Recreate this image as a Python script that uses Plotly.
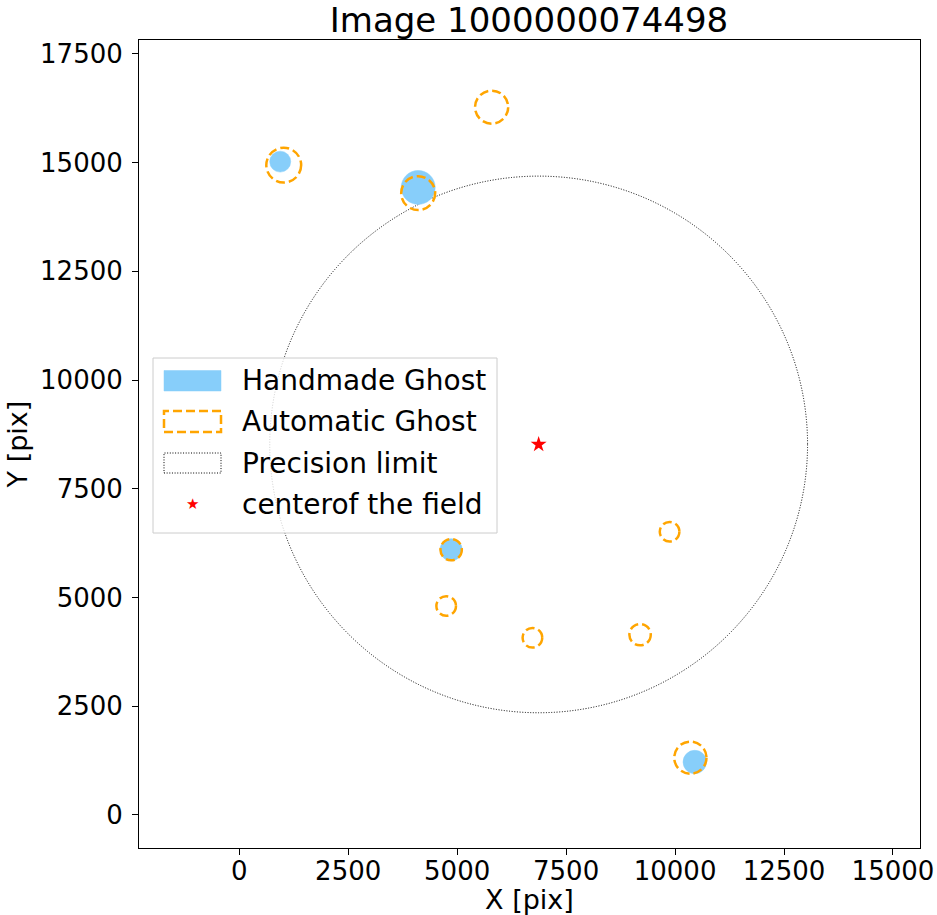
import plotly.graph_objects as go

# ---------------- data ----------------
hand_x = [940, 4106, 4862, 10452]
hand_y = [15023, 14430, 6099, 1218]
hand_r = [241, 390, 255, 269]

auto_x = [1021, 5791, 4106, 4862, 9874, 4748, 6727, 9197, 10351]
auto_y = [14943, 16276, 14299, 6099, 6513, 4805, 4074, 4145, 1317]
auto_r = [400, 380, 390, 245, 225, 225, 225, 245, 370]

center_x = [6870]
center_y = [8520]
precision_r = 6170

x_ticks = [0, 2500, 5000, 7500, 10000, 12500, 15000]
y_ticks = [0, 2500, 5000, 7500, 10000, 12500, 15000, 17500]

legend_labels = ["Handmade Ghost", "Automatic Ghost", "Precision limit", "centerof the field"]

# ---------------- layout geometry ----------------
W, H = 937, 915
L, R, T, B = 139, 17, 40, 67
PW, PH = W - L - R, H - T - B

def px(x):
    return (x - L) / PW

def py(y):
    return (H - B - y) / PH

FONT = "DejaVu Sans"
BLUE = "#87CEFA"
ORANGE = "#FFA500"

fig = go.Figure()

shapes = []
# precision limit circle
shapes.append(dict(type="circle", xref="x", yref="y",
                   x0=center_x[0] - precision_r, x1=center_x[0] + precision_r,
                   y0=center_y[0] - precision_r, y1=center_y[0] + precision_r,
                   line=dict(color="black", width=1, dash="1px,1.65px"),
                   fillcolor="rgba(0,0,0,0)", layer="below"))
# handmade ghosts
for x, y, r in zip(hand_x, hand_y, hand_r):
    shapes.append(dict(type="circle", xref="x", yref="y",
                       x0=x - r, x1=x + r, y0=y - r, y1=y + r,
                       fillcolor=BLUE, line=dict(color=BLUE, width=0.5)))
# automatic ghosts
for x, y, r in zip(auto_x, auto_y, auto_r):
    shapes.append(dict(type="circle", xref="x", yref="y",
                       x0=x - r, x1=x + r, y0=y - r, y1=y + r,
                       fillcolor="rgba(0,0,0,0)",
                       line=dict(color=ORANGE, width=2.5, dash="9px,4px")))

# center of the field
fig.add_trace(go.Scatter(x=center_x, y=center_y, mode="markers",
                         marker=dict(symbol="star", size=12, color="red",
                                     line=dict(width=0)),
                         showlegend=False, hoverinfo="skip"))

# ---------------- custom legend (matplotlib style) ----------------
shapes.append(dict(type="rect", xref="paper", yref="paper",
                   x0=px(153), x1=px(497), y0=py(533), y1=py(358),
                   fillcolor="rgba(255,255,255,0.8)",
                   line=dict(color="#cccccc", width=1)))
shapes.append(dict(type="rect", xref="paper", yref="paper",
                   x0=px(164), x1=px(221), y0=py(391), y1=py(370.5),
                   fillcolor=BLUE, line=dict(color=BLUE, width=0.5)))
shapes.append(dict(type="rect", xref="paper", yref="paper",
                   x0=px(164), x1=px(221), y0=py(432), y1=py(411),
                   fillcolor="rgba(0,0,0,0)",
                   line=dict(color=ORANGE, width=2.5, dash="9px,4px")))
shapes.append(dict(type="rect", xref="paper", yref="paper",
                   x0=px(164), x1=px(221), y0=py(473), y1=py(453),
                   fillcolor="rgba(0,0,0,0)",
                   line=dict(color="black", width=1, dash="1px,1.65px")))

annotations = []
row_y = [380.7, 421.4, 463, 504]
for lab, yy in zip(legend_labels, row_y):
    annotations.append(dict(text=lab, xref="paper", yref="paper",
                            x=px(240), y=py(yy), xanchor="left", yanchor="middle",
                            showarrow=False, font=dict(family=FONT, size=28, color="black")))
annotations.append(dict(text="★", xref="paper", yref="paper",
                        x=px(192.7), y=py(504), xanchor="center", yanchor="middle",
                        showarrow=False, font=dict(family=FONT, size=15, color="red")))

axis_common = dict(showgrid=False, zeroline=False, showline=True, mirror=True,
                   linecolor="black", linewidth=1, ticks="outside", ticklen=6,
                   tickwidth=1, tickcolor="black",
                   tickfont=dict(family=FONT, size=26, color="black"))

fig.update_layout(
    width=W, height=H,
    margin=dict(l=L, r=R, t=T, b=B, autoexpand=False),
    paper_bgcolor="white", plot_bgcolor="white",
    showlegend=False,
    title=dict(text="Image 1000000074498", x=px(529), xref="paper", xanchor="center",
               y=1 - 20 / H, yref="container", yanchor="middle",
               font=dict(family=FONT, size=34, color="black")),
    xaxis=dict(range=[-2300, 15620], tickvals=x_ticks,
               ticktext=[str(v) for v in x_ticks],
               ticklabelstandoff=-6,
               title=dict(text="X [pix]", font=dict(family=FONT, size=27, color="black"),
                          standoff=2),
               **axis_common),
    yaxis=dict(range=[-760, 17820], tickvals=y_ticks,
               ticktext=[str(v) for v in y_ticks],
               ticklabelstandoff=4,
               title=dict(text="Y [pix]", font=dict(family=FONT, size=27, color="black"),
                          standoff=4),
               **axis_common),
    shapes=shapes,
    annotations=annotations,
)

fig.write_html("out.html")
